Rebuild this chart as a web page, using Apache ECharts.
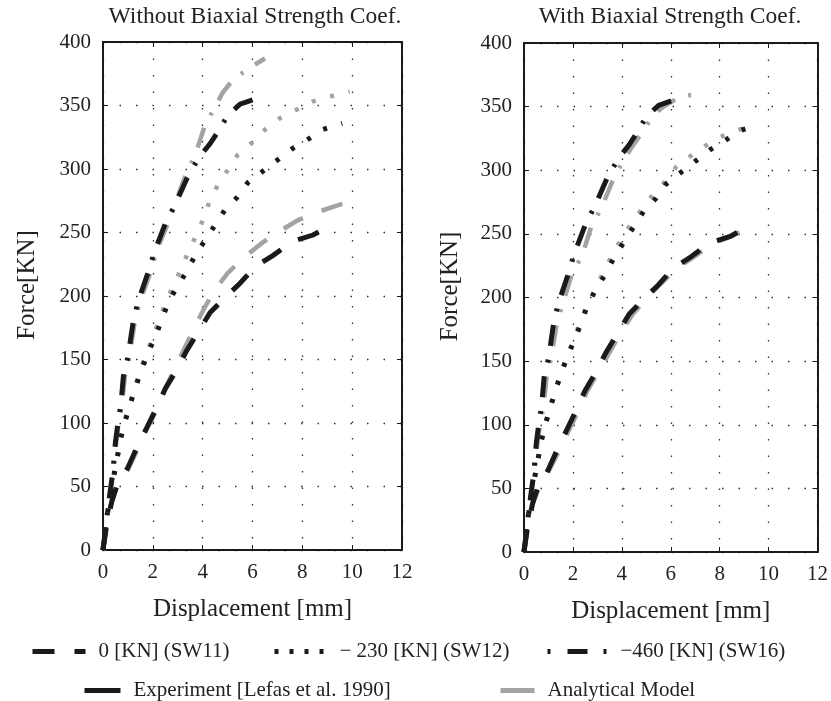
<!DOCTYPE html>
<html><head><meta charset="utf-8">
<script src="https://cdn.jsdelivr.net/npm/echarts@6/dist/echarts.min.js"></script>
<style>html,body{margin:0;padding:0;background:#fff}#c{width:831px;height:701px}</style>
</head><body><div id="c"></div><script>
// ---- data ----
const xTicks = { min: 0, max: 12, interval: 2 };
const yTicks = { min: 0, max: 400, interval: 50 };
const panelTitles = ['Without Biaxial Strength Coef.', 'With Biaxial Strength Coef.'];
const xName = 'Displacement [mm]';
const yName = 'Force[KN]';
const caseNames = ['0 [KN] (SW11)', '\u2212 230 [KN] (SW12)', '\u2212460 [KN] (SW16)'];
const sourceNames = ['Experiment [Lefas et al. 1990]', 'Analytical Model'];

// Experiment (same in both panels)
const sw11Exp = [[0,0],[0.15,20],[0.35,38],[0.55,50],[0.8,58],[1.0,65],[1.37,81],[1.75,96],[2.15,112],[2.5,127],[2.9,140],[3.36,157],[3.83,172],[4.3,187],[4.86,198],[5.5,210],[6.1,223],[6.83,232],[7.6,243],[8.43,248],[8.9,253]];
const sw12Exp = [[0,0],[0.15,25],[0.35,50],[0.55,70],[0.7,87],[0.88,101],[1.08,114],[1.3,128],[1.55,142],[1.8,155],[2.1,168],[2.35,181],[2.6,194],[2.96,207],[3.35,219],[3.7,232],[4.1,244],[4.5,256],[4.9,268],[5.4,278],[5.8,289],[6.4,298],[7.0,307],[7.6,316],[8.2,323],[8.8,331],[9.6,336]];
const sw16Exp = [[0,0],[0.15,25],[0.28,45],[0.4,62],[0.5,85],[0.6,100],[0.72,115],[0.82,137],[1.0,152],[1.2,178],[1.38,194],[1.8,218],[2.05,234],[2.5,257],[2.9,272],[3.4,294],[3.85,309],[4.3,320],[4.6,329],[5.0,342],[5.5,351],[6.1,355],[6.5,356]];
// Analytical model, without biaxial strength coefficient
const sw11NoBiax = [[0,0],[0.15,20],[0.35,38],[0.55,50],[0.8,57],[1.0,63],[1.4,80],[1.8,97],[2.2,112],[2.5,127],[2.85,142],[3.3,160],[3.7,176],[4.05,190],[4.5,205],[5.0,218],[5.7,231],[6.4,242],[7.0,250],[7.85,260],[8.6,266],[9.5,272],[10.0,274]];
const sw12NoBiax = [[0,0],[0.15,25],[0.35,50],[0.55,70],[0.7,87],[0.88,101],[1.08,114],[1.28,128],[1.5,142],[1.75,155],[2.0,168],[2.25,181],[2.5,194],[2.8,207],[3.15,222],[3.45,236],[3.8,250],[4.05,262],[4.3,276],[4.6,287],[5.0,299],[5.4,311],[6.0,321],[6.5,331],[7.1,340],[7.7,346],[8.4,353],[9.1,357],[9.9,361]];
const sw16NoBiax = [[0,0],[0.15,25],[0.3,47],[0.42,64],[0.53,85],[0.63,100],[0.76,115],[0.88,137],[1.06,152],[1.26,178],[1.45,194],[1.9,218],[2.12,234],[2.6,257],[2.9,273],[3.35,297],[3.7,311],[4.1,335],[4.5,349],[4.8,360],[5.2,370],[5.9,380],[6.5,387]];
// Analytical model, with biaxial strength coefficient
const sw11Biax = [[0,0],[0.15,20],[0.35,38],[0.6,50],[0.85,57],[1.05,65],[1.45,80],[1.85,96],[2.25,112],[2.6,127],[3.0,140],[3.5,157],[3.95,172],[4.45,187],[5.0,199],[5.6,211],[6.25,223],[6.95,232],[7.7,242],[8.45,248],[9.0,253],[9.4,255]];
const sw12Biax = [[0,0],[0.15,25],[0.35,50],[0.55,70],[0.72,87],[0.9,101],[1.1,114],[1.32,128],[1.55,142],[1.8,155],[2.05,168],[2.3,181],[2.6,194],[2.92,207],[3.25,220],[3.6,233],[3.95,245],[4.35,257],[4.8,269],[5.28,281],[5.76,291],[6.24,303],[6.8,311],[7.4,319],[8.0,326],[8.8,332],[9.2,334]];
const sw16Biax = [[0,0],[0.15,25],[0.3,47],[0.45,66],[0.56,88],[0.66,100],[0.8,115],[0.92,137],[1.1,152],[1.33,178],[1.53,192],[1.97,219],[2.38,233],[2.74,255],[3.18,271],[3.67,294],[4.07,308],[4.4,318],[4.8,329],[5.27,343],[5.7,350],[6.4,358],[7.0,359.5]];

// ---- styles ----
const FONT = 'Liberation Serif';
const TXT = '#222';
const BLACK = '#1a1a1a';
const GRAY = '#a3a3a3';
const DASHES = [[22, 20], [4, 15], [21, 14, 3, 14]];
const LEGEND_DASHES = [[22, 20], [4, 11], [3, 17, 20, 16]];

const grids = [
  { left: 103, top: 42, width: 299, height: 508 },
  { left: 524, top: 43, width: 298, height: 509 }
];

const xAxes = [], yAxes = [];
grids.forEach((g, i) => {
  xAxes.push({
    type: 'value', gridIndex: i, position: 'bottom', min: xTicks.min, max: xTicks.max, interval: xTicks.interval,
    name: xName, nameLocation: 'middle', nameGap: 47,
    nameTextStyle: { fontFamily: FONT, fontSize: 25, color: TXT },
    axisLine: { show: true, onZero: false, lineStyle: { color: BLACK, width: 2 } },
    axisTick: { show: true, inside: true, length: 5, lineStyle: { color: BLACK, width: 1 } },
    axisLabel: { fontFamily: FONT, fontSize: 21, color: TXT, margin: 12 },
    splitLine: { show: true, lineStyle: { color: '#333', width: 1.3, type: [1.5, 15] } }
  });
  xAxes.push({
    type: 'value', gridIndex: i, position: 'top', min: xTicks.min, max: xTicks.max, interval: xTicks.interval,
    axisLine: { show: true, onZero: false, lineStyle: { color: BLACK, width: 2 } },
    axisTick: { show: true, inside: true, length: 5, lineStyle: { color: BLACK, width: 1 } },
    axisLabel: { show: false }, splitLine: { show: false }
  });
  yAxes.push({
    type: 'value', gridIndex: i, position: 'left', min: yTicks.min, max: yTicks.max, interval: yTicks.interval,
    name: yName, nameLocation: 'middle', nameGap: i === 0 ? 63 : 61, nameRotate: 90,
    nameTextStyle: { fontFamily: FONT, fontSize: 25, color: TXT, padding: [0, 0, 0, 22] },
    axisLine: { show: true, onZero: false, lineStyle: { color: BLACK, width: 2 } },
    axisTick: { show: true, inside: true, length: 5, lineStyle: { color: BLACK, width: 1 } },
    axisLabel: { fontFamily: FONT, fontSize: 21, color: TXT, margin: 12 },
    splitLine: { show: true, lineStyle: { color: '#333', width: 1.3, type: [1.5, 15] } }
  });
  yAxes.push({
    type: 'value', gridIndex: i, position: 'right', min: yTicks.min, max: yTicks.max, interval: yTicks.interval,
    axisLine: { show: true, onZero: false, lineStyle: { color: BLACK, width: 2 } },
    axisTick: { show: true, inside: true, length: 5, lineStyle: { color: BLACK, width: 1 } },
    axisLabel: { show: false }, splitLine: { show: false }
  });
});

function curve(data, panel, color, dash, width, z) {
  return {
    type: 'line', xAxisIndex: panel * 2, yAxisIndex: panel * 2, data: data,
    showSymbol: false, symbol: 'none', smooth: false, z: z, silent: true,
    lineStyle: { color: color, width: width, type: dash, cap: 'butt', join: 'miter' }
  };
}

const expData = [sw11Exp, sw12Exp, sw16Exp];
const modelData = [[sw11NoBiax, sw12NoBiax, sw16NoBiax], [sw11Biax, sw12Biax, sw16Biax]];

const series = [];
[0, 1].forEach(p => {
  [0, 1, 2].forEach(k => series.push(curve(modelData[p][k], p, GRAY, DASHES[k], 4.5, 2)));
  [0, 1, 2].forEach(k => series.push(curve(expData[k], p, BLACK, DASHES[k], 5, 3)));
});
// legend-only series (no data)
function legendSeries(name, color, dash) {
  return { type: 'line', name: name, data: [], symbol: 'none', showSymbol: false, xAxisIndex: 0, yAxisIndex: 0,
    itemStyle: { color: color }, lineStyle: { color: color, width: 5, type: dash, cap: 'butt' } };
}
caseNames.forEach((n, k) => series.push(legendSeries(n, BLACK, LEGEND_DASHES[k])));
series.push(legendSeries(sourceNames[0], BLACK, 'solid'));
series.push(legendSeries(sourceNames[1], GRAY, 'solid'));

function legendItem(name, left, top, w) {
  return {
    data: [name], left: left, top: top, orient: 'horizontal', itemWidth: w, itemHeight: 14, padding: 0,
    selectedMode: false,
    itemStyle: { color: 'rgba(0,0,0,0)', borderWidth: 0, opacity: 0 },
    lineStyle: { width: 5 },
    textStyle: { fontFamily: FONT, fontSize: 21, color: TXT, padding: [0, 0, 0, 8] }
  };
}
const legends = [
  legendItem(caseNames[0], 30, 641, 53),
  legendItem(caseNames[1], 272, 641, 52),
  legendItem(caseNames[2], 545, 641, 60),
  legendItem(sourceNames[0], 82, 680, 36),
  legendItem(sourceNames[1], 498, 680, 34)
];

const chart = echarts.init(document.getElementById('c'), null, { renderer: 'canvas' });
chart.setOption({
  animation: false,
  backgroundColor: '#fff',
  grid: grids,
  xAxis: xAxes,
  yAxis: yAxes,
  legend: legends,
  series: series,
  graphic: [
    { type: 'text', x: 255, y: 17, style: { text: panelTitles[0], align: 'center', verticalAlign: 'middle', font: '23.5px "Liberation Serif"', fill: TXT } },
    { type: 'text', x: 670, y: 17, style: { text: panelTitles[1], align: 'center', verticalAlign: 'middle', font: '23.5px "Liberation Serif"', fill: TXT } }
  ]
});
</script></body></html>
